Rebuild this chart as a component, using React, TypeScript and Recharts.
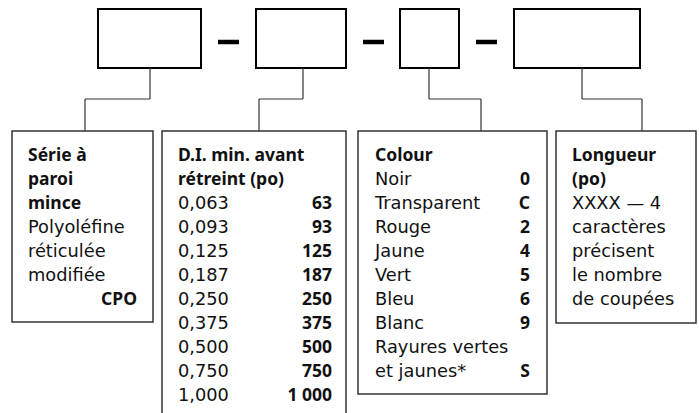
import React from "react";
import {
    ComposedChart, XAxis, YAxis, Scatter,
    ReferenceArea, ReferenceLine
} from "recharts";

// part number fields, left to right
const fieldKeys = ["series", "diameter", "colour", "length"];

const seriesTitle = ["Série à", "paroi", "mince"];
const seriesText = ["Polyoléfine", "réticulée", "modifiée"];
const seriesCode = ["CPO"];

const diameterTitle = ["D.I. min. avant", "rétreint (po)"];
const diameters = ["0,063", "0,093", "0,125", "0,187", "0,250", "0,375", "0,500", "0,750", "1,000"];
const diameterCodes = ["63", "93", "125", "187", "250", "375", "500", "750", "1 000"];

const colourTitle = ["Colour"];
const colours = ["Noir", "Transparent", "Rouge", "Jaune", "Vert", "Bleu", "Blanc", "Rayures vertes", "et jaunes*"];
const colourCodes = ["0", "C", "2", "4", "5", "6", "9", "", "S"];

const lengthTitle = ["Longueur", "(po)"];
const lengthText = ["XXXX — 4", "caractères", "précisent", "le nombre", "de coupées"];

// layout (pixel space of the drawing)
const W = 699;
const H = 413;
const ROW0 = 154;
const ROW = 24;

const topBoxes: Record<string, { x1: number; x2: number }> = {
    series: { x1: 98, x2: 201 },
    diameter: { x1: 256, x2: 346 },
    colour: { x1: 400, x2: 459 },
    length: { x1: 514, x2: 640 },
};
const TOP_Y1 = 9;
const TOP_Y2 = 68;
const dashX = [[218, 239], [363, 384], [476, 497]];
const DASH_Y = 42;

const bottomBoxes: Record<string, { x1: number; x2: number; y2: number; tx: number; rx: number }> = {
    series: { x1: 12, x2: 153, y2: 322, tx: 28, rx: 137 },
    diameter: { x1: 162, x2: 346, y2: 430, tx: 178, rx: 332 },
    colour: { x1: 358, x2: 547, y2: 394, tx: 375, rx: 530 },
    length: { x1: 556, x2: 696, y2: 323, tx: 572, rx: 690 },
};
const BOTTOM_Y1 = 131;
const ELBOW_Y = 99;
const connectorFrom: Record<string, number> = { series: 150, diameter: 303, colour: 429, length: 582 };
const connectorTo: Record<string, number> = { series: 85, diameter: 259, colour: 481, length: 642 };

type TextItem = { x: number; y: number; text: string; bold: boolean; anchor: "start" | "end" };

const column = (key: string, lines: string[], bold: boolean, startRow: number, right = false): TextItem[] =>
    lines.map((text, i) => ({
        x: right ? bottomBoxes[key].rx : bottomBoxes[key].tx,
        y: ROW0 + (startRow + i) * ROW,
        text,
        bold,
        anchor: right ? "end" : "start",
    }));

const textItems: TextItem[] = [
    ...column("series", seriesTitle, true, 0),
    ...column("series", seriesText, false, seriesTitle.length),
    ...column("series", seriesCode, true, seriesTitle.length + seriesText.length, true),
    ...column("diameter", diameterTitle, true, 0),
    ...column("diameter", diameters, false, diameterTitle.length),
    ...column("diameter", diameterCodes, true, diameterTitle.length, true),
    ...column("colour", colourTitle, true, 0),
    ...column("colour", colours, false, colourTitle.length),
    ...column("colour", colourCodes, true, colourTitle.length, true),
    ...column("length", lengthTitle, true, 0),
    ...column("length", lengthText, false, lengthTitle.length),
].filter((t) => t.text !== "");

const TextMark = (props: any) => {
    const { cx, cy, payload } = props;
    return (
        <text
            x={cx}
            y={cy}
            textAnchor={payload.anchor}
            dominantBaseline="central"
            fontFamily={payload.bold ? "'Noto Sans', sans-serif" : "'DejaVu Sans', sans-serif"}
            fontSize={payload.bold ? 17.5 : 17.8}
            fontWeight={payload.bold ? 700 : 400}
            fill="#111"
        >
            {payload.text}
        </text>
    );
};

const App = () => {
    return (
        <div style={{ position: "absolute", left: 0, top: 0, background: "#fff" }}>
            <ComposedChart width={W} height={H} data={textItems} margin={{ top: 0, right: 0, bottom: 0, left: 0 }}>
                <XAxis type="number" dataKey="x" domain={[0, W]} hide />
                <YAxis type="number" dataKey="y" domain={[0, H]} reversed hide />
                {fieldKeys.map((k) => (
                    <ReferenceArea key={"t" + k} x1={topBoxes[k].x1} x2={topBoxes[k].x2} y1={TOP_Y1} y2={TOP_Y2}
                        fill="none" stroke="#000" strokeWidth={2} ifOverflow="visible" />
                ))}
                {dashX.map((d, i) => (
                    <ReferenceLine key={"d" + i} segment={[{ x: d[0], y: DASH_Y }, { x: d[1], y: DASH_Y }]}
                        stroke="#000" strokeWidth={4.5} ifOverflow="visible" />
                ))}
                {fieldKeys.map((k) => (
                    <ReferenceLine key={"c1" + k} segment={[{ x: connectorFrom[k], y: TOP_Y2 }, { x: connectorFrom[k], y: ELBOW_Y }]}
                        stroke="#333" strokeWidth={1.2} ifOverflow="visible" />
                ))}
                {fieldKeys.map((k) => (
                    <ReferenceLine key={"c2" + k} segment={[{ x: connectorFrom[k], y: ELBOW_Y }, { x: connectorTo[k], y: ELBOW_Y }]}
                        stroke="#333" strokeWidth={1.2} ifOverflow="visible" />
                ))}
                {fieldKeys.map((k) => (
                    <ReferenceLine key={"c3" + k} segment={[{ x: connectorTo[k], y: ELBOW_Y }, { x: connectorTo[k], y: BOTTOM_Y1 }]}
                        stroke="#333" strokeWidth={1.2} ifOverflow="visible" />
                ))}
                {fieldKeys.map((k) => (
                    <ReferenceArea key={"b" + k} x1={bottomBoxes[k].x1} x2={bottomBoxes[k].x2} y1={BOTTOM_Y1} y2={bottomBoxes[k].y2}
                        fill="none" stroke="#333" strokeWidth={1.5} ifOverflow="visible" />
                ))}
                <Scatter dataKey="y" shape={<TextMark />} isAnimationActive={false} />
            </ComposedChart>
        </div>
    );
};

export default App;
